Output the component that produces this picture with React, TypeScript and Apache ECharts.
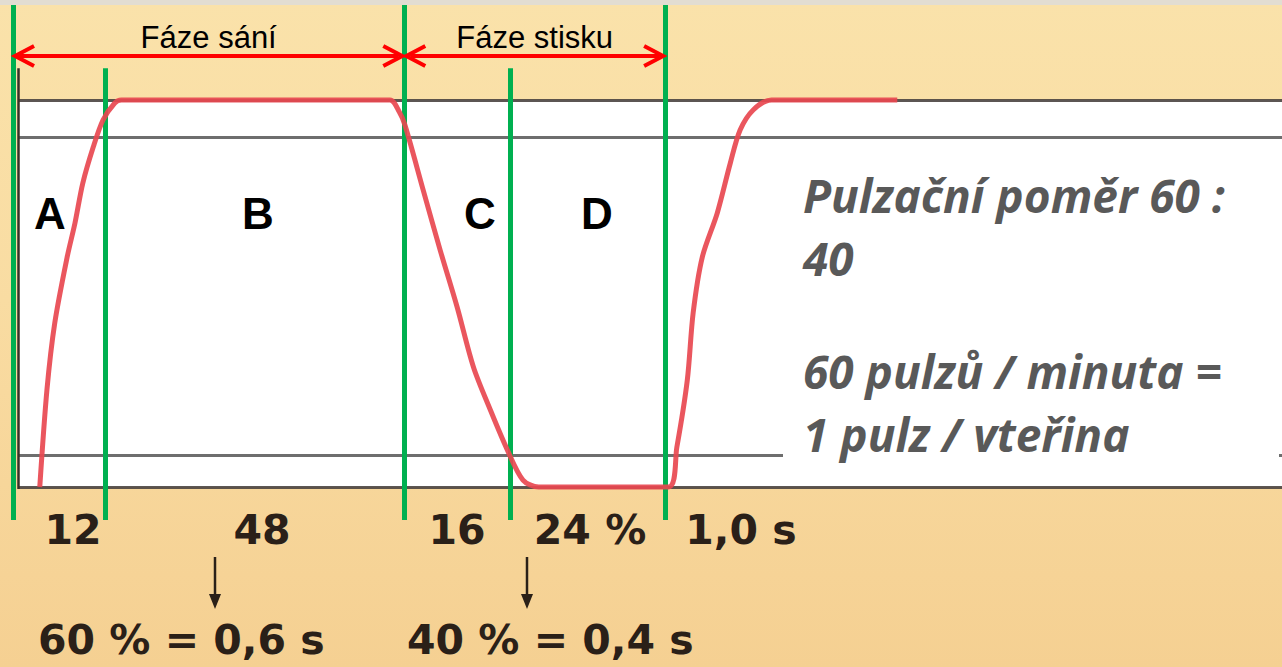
import React, { useEffect, useRef } from "react";
import * as echarts from "echarts";

// ---- data (time in ms of one 1,0 s pulse cycle, level 0..100) ----
const phaseBoundaries = [0, 141, 600, 762, 1000];
const phaseLetters = ["A", "B", "C", "D"];
const segmentLabels = ["12", "48", "16", "24 %", "1,0 s"];
const phaseNames = ["Fáze sání", "Fáze stisku"];
const phaseSummaries = ["60 % = 0,6 s", "40 % = 0,4 s"];
const curveTime = [41, 52, 64, 83, 95, 107, 123, 138, 156, 166, 578, 592, 601, 629, 655, 681, 706, 732, 758, 782, 806, 1005, 1018, 1034, 1043, 1057, 1080, 1100, 1115, 1135, 1163, 1356];
const curveLevel = [0, 25.1, 42.4, 59.4, 68.2, 78.5, 87.8, 94.8, 99.2, 100, 100, 97, 93.5, 76.7, 61.2, 46.5, 31.0, 19.9, 9.6, 1.8, 0, 0, 10.3, 27.6, 45.0, 59.4, 70.8, 83.7, 92.2, 97.4, 100, 100];
const gridLevels = [100, 90.4, 8.3, 0];
const noteBlocks = ["Pulzační poměr 60 :\n40", "60 pulzů / minuta =\n1 pulz / vteřina"];

export default function App() {
  const ref = useRef<HTMLDivElement>(null);

  useEffect(() => {
    const el = ref.current;
    if (!el) return;
    const chart = echarts.init(el, null, { renderer: "svg" });

    const X_MIN = -20;
    const X_MAX = 1946;
    const Y_MIN = -46.5;
    const Y_MAX = 125.8;
    const FRAME_X = 7.7;

    const curveData = curveTime.map((t, i) => [t, curveLevel[i]]);

    chart.setOption({
      animation: false,
      backgroundColor: "transparent",
      grid: { left: 0, right: 0, top: 0, bottom: 0 },
      xAxis: { type: "value", min: X_MIN, max: X_MAX, show: false },
      yAxis: { type: "value", min: Y_MIN, max: Y_MAX, show: false },
      series: [
        {
          type: "line",
          name: "frame",
          data: [],
          silent: true,
          z: 1,
          markArea: {
            silent: true,
            itemStyle: { color: "#ffffff" },
            data: [[{ coord: [FRAME_X, 0] }, { coord: [X_MAX, 100] }]],
          },
          markLine: {
            silent: true,
            symbol: "none",
            label: { show: false },
            emphasis: { disabled: true },
            data: [
              ...gridLevels.map((v, i) => [
                {
                  coord: [FRAME_X, v],
                  lineStyle: {
                    color: i === 0 || i === 3 ? "#4a4440" : "#5e5e5e",
                    width: 3,
                    type: "solid",
                    opacity: 0.9,
                  },
                },
                { coord: [X_MAX, v] },
              ]),
              [
                { coord: [FRAME_X, -0.5], lineStyle: { color: "#3a3028", width: 2.5, type: "solid" } },
                { coord: [FRAME_X, 108.2] },
              ],
            ],
          },
        },
        {
          type: "line",
          name: "curve",
          data: curveData,
          showSymbol: false,
          symbol: "none",
          smooth: 0.3,
          silent: true,
          z: 5,
          lineStyle: { color: "#e84850", width: 5, opacity: 0.92 },
        },
        {
          type: "line",
          name: "phases",
          data: [],
          silent: true,
          z: 6,
          markLine: {
            silent: true,
            symbol: "none",
            label: { show: false },
            emphasis: { disabled: true },
            data: phaseBoundaries.map((t, i) => [
              {
                coord: [t, i % 2 === 0 ? 124.5 : 108.2],
                lineStyle: { color: "#00b050", width: 5, type: "solid" },
              },
              { coord: [t, -8.5] },
            ]),
          },
        },
      ],
    });

    const px = (t: number, v: number) => chart.convertToPixel({ gridIndex: 0 }, [t, v]) as number[];
    const arrowY = 56;
    const graphics: any[] = [];

    graphics.push({ type: "rect", z: 20, shape: { x: 0, y: 0, width: 1282, height: 5 }, style: { fill: "#e2ddd2" } });

    // phase arrows and names
    const spans = [
      [phaseBoundaries[0], phaseBoundaries[2]],
      [phaseBoundaries[2], phaseBoundaries[4]],
    ];
    spans.forEach(([a, b], i) => {
      const xa = px(a, 0)[0] + 2;
      const xb = px(b, 0)[0] - 2;
      graphics.push({
        type: "line",
        z: 30,
        shape: { x1: xa + 4, y1: arrowY, x2: xb - 4, y2: arrowY },
        style: { stroke: "#ff0000", lineWidth: 4 },
      });
      graphics.push({
        type: "polyline",
        z: 30,
        shape: { points: [[xa + 19, arrowY - 10], [xa, arrowY], [xa + 19, arrowY + 10]] },
        style: { stroke: "#ff0000", lineWidth: 4, fill: null },
      });
      graphics.push({
        type: "polyline",
        z: 30,
        shape: { points: [[xb - 19, arrowY - 10], [xb, arrowY], [xb - 19, arrowY + 10]] },
        style: { stroke: "#ff0000", lineWidth: 4, fill: null },
      });
      graphics.push({
        type: "text",
        z: 30,
        x: (px(a, 0)[0] + px(b, 0)[0]) / 2,
        y: 37,
        style: {
          text: phaseNames[i],
          fill: "#000000",
          font: '31px "Liberation Sans", Arial, sans-serif',
          textAlign: "center",
          textVerticalAlign: "middle",
        },
      });
    });

    // phase letters
    const letterX = [50, 258, 480, 597];
    phaseLetters.forEach((l, i) => {
      graphics.push({
        type: "text",
        z: 30,
        x: letterX[i],
        y: 213,
        style: {
          text: l,
          fill: "#000000",
          font: 'bold 44px "Liberation Sans", Arial, sans-serif',
          textAlign: "center",
          textVerticalAlign: "middle",
        },
      });
    });

    // bottom segment labels
    const segX = [73, 262, 457, 590, 741];
    segmentLabels.forEach((s, i) => {
      graphics.push({
        type: "text",
        z: 30,
        x: segX[i],
        y: 530,
        style: {
          text: s,
          fill: "#2a2018",
          font: 'bold 41px "DejaVu Sans", sans-serif',
          textAlign: "center",
          textVerticalAlign: "middle",
        },
      });
    });

    // down arrows
    [215, 527].forEach((x) => {
      graphics.push({
        type: "line",
        z: 30,
        shape: { x1: x, y1: 557, x2: x, y2: 598 },
        style: { stroke: "#2a2018", lineWidth: 2.5 },
      });
      graphics.push({
        type: "polygon",
        z: 30,
        shape: { points: [[x - 6, 594], [x + 6, 594], [x, 609]] },
        style: { fill: "#2a2018" },
      });
    });

    // summaries
    const sumX = [38, 407];
    phaseSummaries.forEach((s, i) => {
      graphics.push({
        type: "text",
        z: 30,
        x: sumX[i],
        y: 640,
        style: {
          text: s,
          fill: "#2a2018",
          font: 'bold 41px "DejaVu Sans", sans-serif',
          textAlign: "left",
          textVerticalAlign: "middle",
        },
      });
    });

    // note box
    graphics.push({
      type: "rect",
      z: 25,
      shape: { x: 783, y: 148, width: 496, height: 315 },
      style: { fill: "#ffffff" },
    });
    const noteCenterY = [226, 402];
    noteBlocks.forEach((s, i) => {
      graphics.push({
        type: "text",
        z: 30,
        x: 803,
        y: noteCenterY[i],
        style: {
          text: s,
          fill: "#595959",
          font: 'italic 700 46px "Open Sans", sans-serif',
          lineHeight: 63,
          textAlign: "left",
          textVerticalAlign: "middle",
        },
      });
    });

    chart.setOption({ graphic: graphics });

    return () => chart.dispose();
  }, []);

  return (
    <div
      ref={ref}
      style={{
        position: "fixed",
        left: 0,
        top: 0,
        width: 1282,
        height: 667,
        background: "linear-gradient(180deg, #fae2aa 0%, #f9dca2 45%, #f5d092 100%)",
      }}
    />
  );
}
